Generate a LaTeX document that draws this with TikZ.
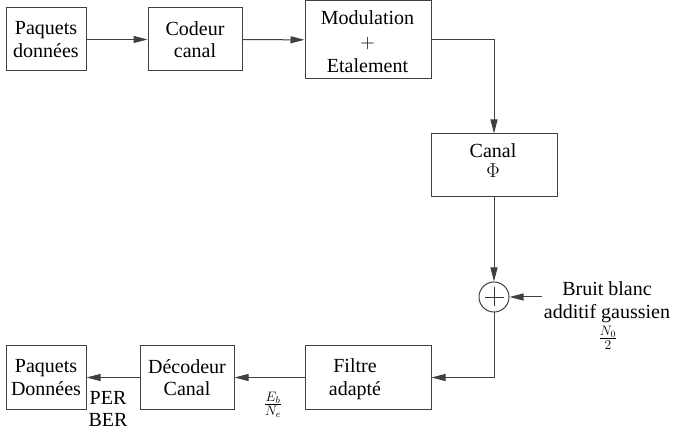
\documentclass[tikz,border=0pt]{standalone}
\usepackage{fix-cm}
\usepackage[no-math]{fontspec}
\setmainfont{Liberation Serif}
\usetikzlibrary{arrows.meta}
\begin{document}
\begin{tikzpicture}[x=1pt,y=-1pt,
  box/.style={draw=black!75, line width=1pt, minimum width=#1, minimum height=63pt,
    inner sep=0pt, align=center, font=\fontsize{20}{22.5}\selectfont},
  txt/.style={inner sep=0pt, align=center, font=\fontsize{20}{22.5}\selectfont},
  mtxt/.style={inner sep=0pt, font=\fontsize{19.5}{21}\selectfont},
  conn/.style={draw=black!75, line width=1pt, -{Triangle[length=14pt,width=7pt]}},
  wire/.style={draw=black!75, line width=1pt}]
\useasboundingbox (0,0) rectangle (677,435);
% top row
\node[box=80] (p1) at (46,39.5) {Paquets\\données};
\node[box=94] (cod) at (195,39.5) {Codeur\\canal};
\node[box=126, minimum height=78pt] (mod) at (368,40) {};
\node[txt, font=\fontsize{20}{24}\selectfont] (modt) at (367.5,42) {Modulation\\$+$\\Etalement};
% canal
\node[box=126] (can) at (494,165.5) {};
\node[txt, font=\fontsize{20}{20}\selectfont] (cant) at (493,160.5) {Canal\\$\Phi$};
% sum
\node[draw=black!75, line width=1pt, circle, minimum size=30pt, inner sep=0pt] (sum) at (494,297) {};
\draw[line width=0.8pt, black!80] ([xshift=-9.5pt]sum.center) -- ([xshift=9.5pt]sum.center);
\draw[line width=0.8pt, black!80] ([yshift=-9.5pt]sum.center) -- ([yshift=9.5pt]sum.center);
\coordinate (noise) at (542,297);
\node[txt, font=\fontsize{20}{23}\selectfont] (noiset) at (607,302) {Bruit blanc\\additif gaussien};
\node[mtxt] (n0) at (608,338) {$\frac{N_0}{2}$};
% bottom row
\node[box=80] (p2) at (46,377.5) {Paquets\\Données};
\node[box=94] (dec) at (187,377.5) {Décodeur\\Canal};
\node[box=126] (fil) at (368,377.5) {};
\node[txt] (filt) at (355,379) {Filtre\\adapté};
\node[txt] (per) at (108,409) {PER\\BER};
\node[mtxt] (eb) at (273,405) {$\frac{E_b}{N_e}$};
% connectors
\draw[conn] (p1) -- (cod);
\draw[conn] (cod) -- (mod);
\draw[conn] (mod.east) -- (mod.east -| can.north) -- (can.north);
\draw[conn] (can.south) -- (sum.north);
\draw[conn] (noise) -- (sum.east);
\draw[conn] (sum.south) -- (sum.south |- fil.east) -- (fil.east);
\draw[conn] (fil) -- (dec);
\draw[conn] (dec) -- (p2);
\end{tikzpicture}
\end{document}
